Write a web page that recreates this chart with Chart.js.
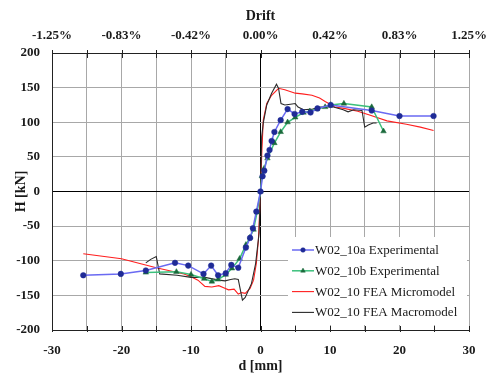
<!DOCTYPE html>
<html>
<head>
<meta charset="utf-8">
<script src="https://cdn.jsdelivr.net/npm/chart.js@4/dist/chart.umd.min.js"></script>
<style>
  html, body { margin: 0; padding: 0; background: #fff; }
  #wrap { width: 492px; height: 375px; }
</style>
</head>
<body>
<div id="wrap"><canvas id="c" width="492" height="375"></canvas></div>
<script>
// Lateral displacement d [mm] vs. horizontal load H [kN], wall W02_10
const seriesNames = [
  'W02_10a Experimental',
  'W02_10b Experimental',
  'W02_10 FEA Micromodel',
  'W02_10 FEA Macromodel'
];

// W02_10a test envelope
const expAX = [-25.5, -20.1, -16.5, -12.3, -10.4, -8.2, -7.1, -6.1, -5.0, -4.2, -3.2, -2.1, -1.5, -1.1, -0.6, 0, 0.3, 0.55, 1.0, 1.3, 1.6, 2.0, 2.9, 3.9, 4.9, 6.0, 7.2, 8.2, 10.1, 16.0, 20.0, 24.9];
const expAY = [-121, -119, -114, -103, -107, -119, -107, -121, -118, -106, -110, -81, -67, -53, -29, 0, 22, 30, 52, 60, 73, 86, 103, 119, 112, 115, 114, 120, 125, 117, 109, 109];

// W02_10b test envelope
const expBX = [-16.5, -12.1, -10.0, -8.1, -7.0, -6.1, -5.0, -4.1, -3.0, -2.1, -1.5, -1.0, -0.5, 0, 0.2, 0.5, 1.0, 2.0, 2.9, 3.9, 5.0, 6.2, 7.1, 8.1, 9.3, 10.1, 12.0, 16.0, 17.7];
const expBY = [-117, -116, -120, -126, -130, -127, -120, -111, -97, -77, -66, -55, -30, 0, 22, 33, 48, 70, 86, 100, 107, 114, 116, 119, 122, 125, 127, 122, 87];

// Micromodel curve
const microX = [-25.5, -20, -15, -11, -10, -9, -8, -7, -6, -5.3, -4.6, -3.8, -3.2, -2.7, -2.2, -1.5, -1.0, -0.6, -0.3, 0, 0.2, 0.4, 0.9, 1.6, 2.6, 3.5, 5, 6, 7.4, 8.5, 9.3, 10.7, 12, 14, 15.8, 18.2, 21, 23, 24.9];
const microY = [-90, -97, -110, -119, -123, -128, -137, -138, -136, -139, -142, -141, -148, -146, -147, -140, -128, -104, -70, 0, 60, 103, 127, 139, 149, 147, 142, 141, 139, 135, 130, 122, 120, 116, 110, 102, 97, 93, 88];

// Macromodel curve
const macroX = [-16.5, -15.8, -15.0, -14.5, -12, -10, -8, -6, -5.1, -4.3, -3.7, -3.2, -2.6, -2.2, -1.3, -0.7, -0.2, 0, 0.17, 0.4, 0.9, 1.6, 2.3, 2.6, 2.95, 3.5, 4.3, 5.0, 5.4, 6.2, 7.5, 8.6, 10.5, 11.9, 12.6, 13.4, 14.6, 15.0, 15.5, 16.2, 16.7];
const macroY = [-103, -98, -94, -119, -121, -124, -124, -128, -129, -127, -126, -127, -157, -153, -133, -104, -60, 0, 79, 99, 125, 142, 155, 149, 127, 125, 126, 127, 122, 118, 119, 122, 122, 118, 115, 118, 117, 93, 96, 99, 99];

// Axis ranges and tick spacing
const dRange = [-30, 30];
const dStep = 5;
const dLabelStep = 10;
const hRange = [-200, 200];
const hStep = 50;
const wallHeightMm = 2400; // drift = d / height

const pts = (xs, ys) => xs.map((x, i) => ({ x, y: ys[i] }));

const serif = '"Liberation Serif", "DejaVu Serif", serif';
const tickFont = { family: serif, size: 13, weight: 'bold' };
const titleFont = { family: serif, size: 14, weight: 'bold' };

// Short dark tick marks across the top and bottom frame lines
const frameTicks = {
  id: 'frameTicks',
  afterDraw(chart) {
    const { ctx, chartArea: a, scales: { x } } = chart;
    ctx.save();
    ctx.strokeStyle = '#222';
    ctx.lineWidth = 1;
    for (let v = dRange[0]; v <= dRange[1]; v += dStep) {
      const px = Math.round(x.getPixelForValue(v)) + 0.5;
      ctx.beginPath();
      ctx.moveTo(px, a.top - 3); ctx.lineTo(px, a.top + 5);
      ctx.moveTo(px, a.bottom - 4); ctx.lineTo(px, a.bottom + 2);
      ctx.stroke();
    }
    ctx.restore();
  }
};

// Legend box placed inside the lower right of the plot
const innerLegend = {
  id: 'innerLegend',
  afterDraw(chart) {
    const { ctx, chartArea: a } = chart;
    const left = a.right - 181, top = a.bottom - 93;
    ctx.save();
    ctx.fillStyle = '#fff';
    ctx.fillRect(left, top, 179, 88);
    chart.data.datasets.forEach((ds, i) => {
      const y = top + 13 + i * 20.8;
      ctx.strokeStyle = ds.borderColor;
      ctx.lineWidth = ds.borderWidth;
      ctx.beginPath();
      ctx.moveTo(left + 4, y); ctx.lineTo(left + 26, y);
      ctx.stroke();
      if (ds.pointRadius > 0) {
        ctx.fillStyle = ds.pointBackgroundColor;
        ctx.strokeStyle = ds.pointBorderColor;
        ctx.lineWidth = 0.5;
        Chart.helpers.drawPoint(ctx, { pointStyle: ds.pointStyle, radius: ds.pointRadius - 0.5, rotation: 0, borderWidth: 0.5 }, left + 15, y);
      }
      ctx.fillStyle = '#1a1a1a';
      ctx.font = '13px ' + serif;
      ctx.textBaseline = 'middle';
      ctx.textAlign = 'left';
      ctx.fillText(ds.label, left + 27, y + 0.5);
    });
    ctx.restore();
  }
};

const gridColor = c => (c.tick && c.tick.value === 0) ? '#000' : '#a8a8a8';

// Fixed frame: keep the horizontal axes from reserving room for edge labels
const fixHorizontal = h => s => { s.height = h; s.paddingLeft = 0; s.paddingRight = 0; };

new Chart(document.getElementById('c'), {
  type: 'scatter',
  data: {
    datasets: [
      {
        label: seriesNames[0], data: pts(expAX, expAY), showLine: true,
        borderColor: '#6a6af2', borderWidth: 1.5,
        pointStyle: 'circle', pointRadius: 2.8,
        pointBackgroundColor: '#1f2b96', pointBorderColor: '#1f2b96', pointBorderWidth: 0.5,
        order: 0
      },
      {
        label: seriesNames[1], data: pts(expBX, expBY), showLine: true,
        borderColor: '#3cc07c', borderWidth: 1.5,
        pointStyle: 'triangle', pointRadius: 3.2,
        pointBackgroundColor: '#1b6a3c', pointBorderColor: '#1b6a3c', pointBorderWidth: 0.5,
        order: 1
      },
      {
        label: seriesNames[2], data: pts(microX, microY), showLine: true,
        borderColor: '#ff1e1e', borderWidth: 1.1, pointRadius: 0,
        order: 3
      },
      {
        label: seriesNames[3], data: pts(macroX, macroY), showLine: true,
        borderColor: '#2a2a2a', borderWidth: 1.1, pointRadius: 0,
        order: 2
      }
    ]
  },
  options: {
    responsive: false,
    animation: false,
    devicePixelRatio: 1,
    layout: { padding: { left: 0, right: 23, top: 0, bottom: 0 } },
    plugins: { legend: { display: false }, tooltip: { enabled: false } },
    elements: { line: { tension: 0 } },
    scales: {
      x: {
        type: 'linear', position: 'bottom',
        min: dRange[0], max: dRange[1],
        afterFit: fixHorizontal(45),
        ticks: {
          stepSize: dStep, autoSkip: false, maxRotation: 0, padding: 13,
          color: '#1a1a1a', font: tickFont,
          callback: v => (v % dLabelStep === 0 ? String(v) : '')
        },
        grid: { color: gridColor, lineWidth: 1, drawTicks: false },
        border: { color: '#222', width: 1 },
        title: { display: true, text: 'd [mm]', color: '#1a1a1a', font: titleFont, padding: { top: 0, bottom: 0 } }
      },
      x2: {
        type: 'linear', position: 'top',
        min: dRange[0], max: dRange[1],
        afterFit: fixHorizontal(53),
        ticks: {
          stepSize: dStep, autoSkip: false, maxRotation: 0, padding: 10,
          color: '#1a1a1a', font: tickFont,
          callback: v => (v % dLabelStep === 0 ? (v / wallHeightMm * 100).toFixed(2) + '%' : '')
        },
        grid: { display: false, drawTicks: false },
        border: { color: '#222', width: 1 },
        title: { display: true, text: 'Drift', color: '#1a1a1a', font: titleFont, padding: { top: 8, bottom: 0 } }
      },
      y: {
        type: 'linear', position: 'left',
        min: hRange[0], max: hRange[1],
        afterFit: s => { s.width = 52; },
        ticks: { stepSize: hStep, padding: 12, color: '#1a1a1a', font: tickFont },
        grid: { color: gridColor, lineWidth: 1, drawTicks: false },
        border: { color: '#222', width: 1 },
        title: { display: true, text: 'H [kN]', color: '#1a1a1a', font: titleFont, padding: { top: 13, bottom: 0 } }
      }
    }
  },
  plugins: [frameTicks, innerLegend]
});
</script>
</body>
</html>
